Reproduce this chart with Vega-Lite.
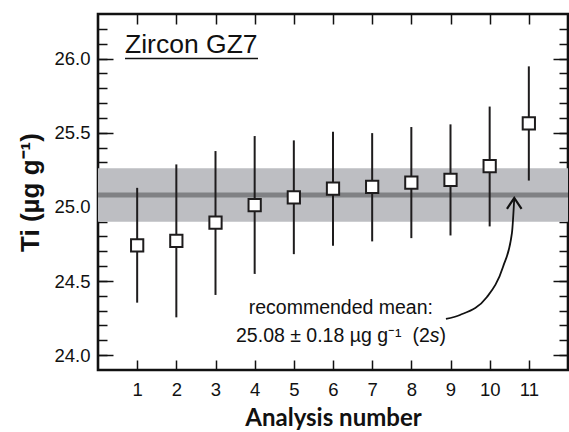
{
  "$schema": "https://vega.github.io/schema/vega-lite/v6.json",
  "width": 470,
  "height": 356,
  "autosize": {"type": "none"},
  "padding": {"left": 98, "top": 14, "right": 1, "bottom": 62},
  "background": "white",
  "config": {
    "view": {"stroke": "#111111", "strokeWidth": 2.6},
    "axis": {"labelFont": "Liberation Sans", "labelColor": "#111111", "titleColor": "#111111", "domain": false, "zindex": 1}
  },
  "resolve": {"axis": {"x": "independent", "y": "independent"}},
  "layer": [
    {
      "data": {"values": [{"lo": 24.90, "hi": 25.26}]},
      "mark": {"type": "rect", "color": "#bdbec2"},
      "encoding": {
        "y": {"field": "hi", "type": "quantitative", "axis": null, "scale": {"domain": [23.9, 26.3], "nice": false, "zero": false}},
        "y2": {"field": "lo"}
      }
    },
    {
      "data": {"values": [{"m": 25.08}]},
      "mark": {"type": "rule", "color": "#808184", "strokeWidth": 5},
      "encoding": {
        "y": {"field": "m", "type": "quantitative", "axis": null}
      }
    },
    {
      "data": {"name": "pts", "values": [
        {"n": 1, "ti": 24.74, "lo": 24.354, "hi": 25.128},
        {"n": 2, "ti": 24.771, "lo": 24.255, "hi": 25.286},
        {"n": 3, "ti": 24.893, "lo": 24.406, "hi": 25.376},
        {"n": 4, "ti": 25.012, "lo": 24.548, "hi": 25.477},
        {"n": 5, "ti": 25.064, "lo": 24.681, "hi": 25.448},
        {"n": 6, "ti": 25.123, "lo": 24.737, "hi": 25.507},
        {"n": 7, "ti": 25.135, "lo": 24.767, "hi": 25.497},
        {"n": 8, "ti": 25.164, "lo": 24.789, "hi": 25.538},
        {"n": 9, "ti": 25.182, "lo": 24.807, "hi": 25.556},
        {"n": 10, "ti": 25.274, "lo": 24.868, "hi": 25.676},
        {"n": 11, "ti": 25.563, "lo": 25.177, "hi": 25.947}
      ]},
      "mark": {"type": "rule", "color": "#1e1c1d", "strokeWidth": 2},
      "encoding": {
        "x": {"field": "n", "type": "quantitative",
          "scale": {"domain": [0, 12], "nice": false, "zero": false},
          "axis": {"orient": "bottom", "values": [1,2,3,4,5,6,7,8,9,10,11], "tickSize": -10, "tickWidth": 1.5, "tickColor": "#111111",
            "labelFontSize": 18.5, "labelPadding": 20, "grid": false,
            "title": "Analysis number", "titleFont": "Lato", "titleFontWeight": "bold", "titleFontSize": 24, "titlePadding": 8}},
        "y": {"field": "lo", "type": "quantitative",
          "scale": {"domain": [23.9, 26.3], "nice": false, "zero": false},
          "axis": {"orient": "left",
            "values": [24.0,24.1,24.2,24.3,24.4,24.5,24.6,24.7,24.8,24.9,25.0,25.1,25.2,25.3,25.4,25.5,25.6,25.7,25.8,25.9,26.0,26.1,26.2],
            "labelExpr": "abs(datum.value*2-round(datum.value*2))<0.001 ? format(datum.value,'.1f') : ''",
            "tickSize": -9, "tickWidth": 1.5, "tickColor": "#111111",
            "grid": true, "gridDash": [15, 3000], "gridColor": "#111111", "gridWidth": 1.5,
            "gridOpacity": {"condition": {"test": "abs(datum.value*2-round(datum.value*2))<0.001", "value": 1}, "value": 0},
            "labelFontSize": 18.5, "labelPadding": 17,
            "title": "Ti (µg g⁻¹)", "titleFont": "Liberation Sans", "titleFontWeight": "bold", "titleFontSize": 26, "titlePadding": 10}},
        "y2": {"field": "hi"}
      }
    },
    {
      "data": {"name": "pts"},
      "mark": {"type": "point", "shape": "square", "filled": true, "fill": "white", "stroke": "#1e1c1d", "strokeWidth": 2, "size": 150, "opacity": 1},
      "encoding": {
        "x": {"field": "n", "type": "quantitative",
          "axis": {"orient": "top", "values": [1,2,3,4,5,6,7,8,9,10,11], "tickSize": -10, "tickWidth": 1.5, "tickColor": "#111111", "labels": false, "grid": false, "title": null}},
        "y": {"field": "ti", "type": "quantitative",
          "axis": {"orient": "right",
            "values": [24.0,24.1,24.2,24.3,24.4,24.5,24.6,24.7,24.8,24.9,25.0,25.1,25.2,25.3,25.4,25.5,25.6,25.7,25.8,25.9,26.0,26.1,26.2],
            "labels": false, "tickSize": -9, "tickWidth": 1.5, "tickColor": "#111111",
            "grid": true, "gridDash": [15, 3000], "gridColor": "#111111", "gridWidth": 1.5,
            "gridOpacity": {"condition": {"test": "abs(datum.value*2-round(datum.value*2))<0.001", "value": 1}, "value": 0},
            "title": null}}
      }
    },
    {
      "data": {"values": [{"x": 0.69, "y": 26.035, "t": "Zircon GZ7"}]},
      "mark": {"type": "text", "align": "left", "baseline": "alphabetic", "font": "Liberation Sans", "fontSize": 26.5, "color": "#111111"},
      "encoding": {
        "x": {"field": "x", "type": "quantitative", "axis": null},
        "y": {"field": "y", "type": "quantitative", "axis": null},
        "text": {"field": "t"}
      }
    },
    {
      "data": {"values": [{"x": 0.69, "x2": 4.085, "y": 26.0}]},
      "mark": {"type": "rule", "color": "#111111", "strokeWidth": 1.6},
      "encoding": {
        "x": {"field": "x", "type": "quantitative", "axis": null},
        "x2": {"field": "x2"},
        "y": {"field": "y", "type": "quantitative", "axis": null}
      }
    },
    {
      "data": {"values": [{"x": 6.2, "y": 24.277, "t": "recommended mean:"}]},
      "mark": {"type": "text", "align": "center", "baseline": "alphabetic", "font": "Liberation Sans", "fontSize": 19.5, "color": "#111111"},
      "encoding": {
        "x": {"field": "x", "type": "quantitative", "axis": null},
        "y": {"field": "y", "type": "quantitative", "axis": null},
        "text": {"field": "t"}
      }
    },
    {
      "data": {"values": [{"x": 8.47, "y": 24.09, "t": "25.08 ± 0.18 µg g⁻¹\u00a0\u00a0(2"}]},
      "mark": {"type": "text", "align": "right", "baseline": "alphabetic", "font": "Liberation Sans", "fontSize": 19.5, "color": "#111111"},
      "encoding": {
        "x": {"field": "x", "type": "quantitative", "axis": null},
        "y": {"field": "y", "type": "quantitative", "axis": null},
        "text": {"field": "t"}
      }
    },
    {
      "data": {"values": [{"x": 8.718, "y": 24.09, "t": "s"}]},
      "mark": {"type": "text", "align": "right", "baseline": "alphabetic", "font": "Liberation Sans", "fontSize": 19.5, "fontStyle": "italic", "color": "#111111"},
      "encoding": {
        "x": {"field": "x", "type": "quantitative", "axis": null},
        "y": {"field": "y", "type": "quantitative", "axis": null},
        "text": {"field": "t"}
      }
    },
    {
      "data": {"values": [{"x": 8.884, "y": 24.09, "t": ")"}]},
      "mark": {"type": "text", "align": "right", "baseline": "alphabetic", "font": "Liberation Sans", "fontSize": 19.5, "color": "#111111"},
      "encoding": {
        "x": {"field": "x", "type": "quantitative", "axis": null},
        "y": {"field": "y", "type": "quantitative", "axis": null},
        "text": {"field": "t"}
      }
    },
    {
      "data": {"values": [
        {"x": 8.884, "y": 24.244},
        {"x": 9.242, "y": 24.271},
        {"x": 9.931, "y": 24.392},
        {"x": 10.34, "y": 24.595},
        {"x": 10.569, "y": 24.825},
        {"x": 10.628, "y": 25.06}
      ]},
      "mark": {"type": "line", "interpolate": "monotone", "color": "#111111", "strokeWidth": 1.8},
      "encoding": {
        "x": {"field": "x", "type": "quantitative", "axis": null},
        "y": {"field": "y", "type": "quantitative", "axis": null}
      }
    },
    {
      "data": {"values": [{"x": 10.628, "y": 25.06}]},
      "mark": {"type": "point", "shape": "M-1,1.5L0,0L1,1.5", "filled": false, "stroke": "#111111", "strokeWidth": 2.2, "size": 213, "opacity": 1},
      "encoding": {
        "x": {"field": "x", "type": "quantitative", "axis": null},
        "y": {"field": "y", "type": "quantitative", "axis": null}
      }
    }
  ]
}
